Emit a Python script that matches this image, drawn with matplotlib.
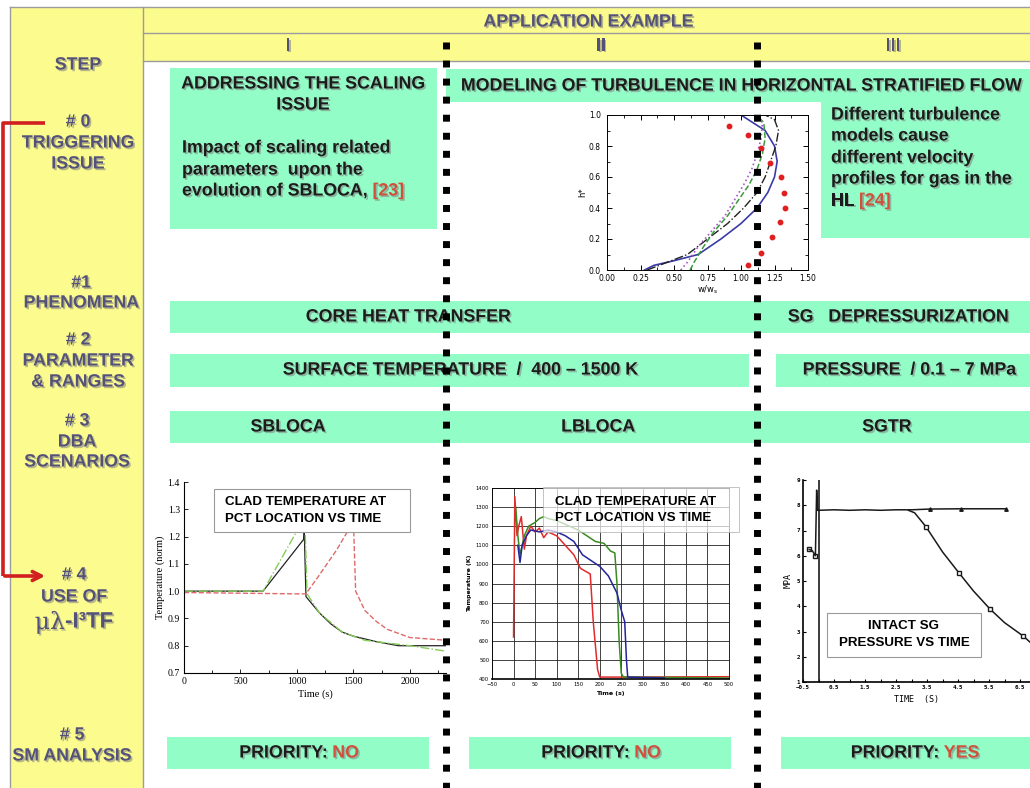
import matplotlib
matplotlib.use("Agg")
import matplotlib.pyplot as plt
import matplotlib.patheffects as pe
from matplotlib.patches import Rectangle
from matplotlib.ticker import MultipleLocator

# ---------------- data ----------------
step_labels = [["STEP"],
               ["# 0", "TRIGGERING", "ISSUE"],
               ["#1", "PHENOMENA"],
               ["# 2", "PARAMETER", "& RANGES"],
               ["# 3", "DBA", "SCENARIOS"],
               ["# 4", "USE OF", ("\u03bc\u03bb", "-I\u00b3TF")],
               ["# 5", "SM ANALYSIS"]]
columns = ["I", "II", "III"]
phenomena = ["CORE HEAT TRANSFER", "SG   DEPRESSURIZATION"]
param_ranges = ["SURFACE TEMPERATURE  /  400 \u2013 1500 K", "PRESSURE  / 0.1 \u2013 7 MPa"]
scenarios = ["SBLOCA", "LBLOCA", "SGTR"]
priority = ["NO", "NO", "YES"]

# turbulence profiles (w/ws, h*)
turb_blue_w = [0.28, 0.35, 0.50, 0.68, 0.85, 1.00, 1.12, 1.20, 1.25, 1.27, 1.25, 1.18, 1.00]
turb_blue_h = [0.00, 0.03, 0.06, 0.10, 0.20, 0.30, 0.40, 0.50, 0.60, 0.70, 0.80, 0.90, 1.00]
turb_black_w = [0.30, 0.45, 0.60, 0.75, 0.90, 1.02, 1.12, 1.18, 1.22, 1.26, 1.28, 1.25, 1.18]
turb_black_h = [0.00, 0.05, 0.10, 0.20, 0.30, 0.40, 0.50, 0.60, 0.70, 0.80, 0.90, 0.97, 1.00]
turb_green_w = [0.62, 0.65, 0.72, 0.80, 0.90, 0.98, 1.06, 1.12, 1.16, 1.18, 1.17, 1.12]
turb_green_h = [0.00, 0.05, 0.15, 0.25, 0.35, 0.45, 0.55, 0.65, 0.75, 0.85, 0.95, 1.00]
turb_purple_w = [0.55, 0.60, 0.68, 0.78, 0.88, 0.95, 1.02, 1.08, 1.12, 1.15, 1.16, 1.12]
turb_purple_h = [0.00, 0.05, 0.15, 0.25, 0.35, 0.45, 0.55, 0.65, 0.75, 0.85, 0.95, 1.00]
turb_exp_w = [1.05, 1.15, 1.23, 1.29, 1.33, 1.32, 1.30, 1.22, 1.15, 1.05, 0.91]
turb_exp_h = [0.03, 0.11, 0.21, 0.31, 0.40, 0.50, 0.60, 0.69, 0.79, 0.87, 0.93]

# SBLOCA normalized clad temperature
sb_black_t = [0, 700, 1060, 1065, 1080, 1100, 1200, 1300, 1400, 1500, 1700, 1900, 2320]
sb_black_T = [1.0, 1.0, 1.19, 1.22, 0.98, 0.97, 0.92, 0.88, 0.85, 0.835, 0.815, 0.80, 0.80]
sb_green_t = [0, 700, 1040, 1070, 1090, 1200, 1400, 1600, 1800, 2000, 2320]
sb_green_T = [1.0, 1.0, 1.25, 1.26, 0.99, 0.92, 0.85, 0.82, 0.81, 0.80, 0.78]
sb_red_t = [0, 1000, 1080, 1200, 1350, 1450, 1500, 1520, 1600, 1700, 1800, 1900, 2000, 2320]
sb_red_T = [0.995, 0.99, 0.99, 1.06, 1.15, 1.22, 1.26, 1.0, 0.93, 0.89, 0.86, 0.845, 0.83, 0.82]

# LBLOCA clad temperature (K)
lb_red_t = [0, 3, 8, 12, 18, 25, 30, 40, 50, 60, 70, 80, 100, 120, 140, 155, 170, 178, 185, 195, 200, 250, 500]
lb_red_T = [620, 1355, 1150, 1200, 1250, 1080, 1150, 1200, 1170, 1190, 1140, 1170, 1150, 1100, 1050, 980,
            960, 950, 700, 450, 410, 410, 412]
lb_green_t = [5, 10, 15, 20, 25, 35, 50, 60, 70, 80, 100, 120, 150, 170, 190, 210, 225, 235, 240, 245, 250,
              255, 500]
lb_green_T = [1300, 1150, 1050, 1100, 1150, 1200, 1220, 1240, 1250, 1240, 1230, 1210, 1180, 1150, 1120, 1110,
              1070, 1060, 900, 600, 430, 410, 405]
lb_blue_t = [10, 15, 20, 30, 40, 60, 80, 100, 120, 140, 160, 180, 200, 220, 240, 250, 258, 262, 265, 350]
lb_blue_T = [1100, 1010, 1100, 1150, 1180, 1170, 1180, 1170, 1150, 1120, 1050, 1020, 990, 940, 850, 760,
             700, 500, 410, 405]

# SGTR intact SG pressure (MPa)
sg_spike_t = [-0.3, -0.2, -0.1, -0.06, -0.03, 0.0]
sg_spike_p = [6.25, 6.2, 6.0, 8.6, 7.8, 7.8]
sg_vert_t = [0.02, 0.02]
sg_vert_p = [1.0, 9.3]
sg_up_t = [0.0, 0.5, 1.0, 1.5, 2.0, 2.5, 3.0, 3.6, 4.6, 6.05]
sg_up_p = [7.8, 7.82, 7.8, 7.82, 7.8, 7.82, 7.82, 7.85, 7.86, 7.86]
sg_low_t = [2.9, 3.1, 3.3, 3.47, 4.0, 4.53, 5.0, 5.53, 6.0, 6.6, 6.82]
sg_low_p = [7.8, 7.7, 7.4, 7.14, 6.15, 5.32, 4.6, 3.89, 3.35, 2.82, 2.58]

# ---------------- figure ----------------
W, H = 1030, 788
YELLOW = '#fbfb8e'
GREEN = '#93fdc7'
PURPLE = '#55527a'
RED = '#d0503c'
DARK = '#1c1c1c'
SANS = 'Liberation Sans'
BIG = 12.8
shadow = [pe.withSimplePatchShadow(offset=(1.2, -1.2), shadow_rgbFace='#808080', alpha=0.55)]

fig = plt.figure(figsize=(W / 100, H / 100), dpi=100)
bg = fig.add_axes([0, 0, 1, 1])
bg.set_xlim(0, W)
bg.set_ylim(H, 0)
bg.axis('off')
top = fig.add_axes([0, 0, 1, 1], zorder=10)
top.set_xlim(0, W)
top.set_ylim(H, 0)
top.axis('off')
top.patch.set_alpha(0)
renderer = fig.canvas.get_renderer()


def rect(l, t, r, b):
    return [l / W, 1 - b / H, (r - l) / W, (b - t) / H]


def box(x0, y0, x1, y1, color=GREEN, ax=bg, **kw):
    ax.add_patch(Rectangle((x0, y0), x1 - x0, y1 - y0, fc=color, ec=kw.pop('ec', 'none'), **kw))


def label(x, y, s, size=BIG, color=DARK, ha='center', ax=bg, fx=True, **kw):
    return ax.text(x, y, s, fontsize=size, color=color, ha=ha, va='center',
                   fontweight=kw.pop('fontweight', 'bold'), family=kw.pop('family', SANS),
                   path_effects=shadow if fx else None, **kw)


def two_tone(x, y, parts, size=BIG, ha='center'):
    objs = []
    for p in parts:
        kw = dict(p[2]) if len(p) > 2 else {}
        sz = kw.pop('fontsize', size)
        objs.append(label(0, y, p[0], sz, p[1], ha='left', **kw))
    widths = [o.get_window_extent(renderer).width for o in objs]
    start = x - sum(widths) / 2 if ha == 'center' else x
    for o, w in zip(objs, widths):
        o.set_x(start)
        start += w


# header / left column
box(10, 7, W, 61, YELLOW)
box(10, 7, 143, H, YELLOW)
gray = dict(color='#9c9c9c', lw=1)
bg.plot([10, W], [7, 7], **gray)
bg.plot([143, W], [33, 33], **gray)
bg.plot([143, W], [61, 61], **gray)
bg.plot([10, 10], [7, H], **gray)
bg.plot([143, 143], [7, H], **gray)

label(588, 22, "APPLICATION EXAMPLE", BIG, PURPLE)
for x, c in zip([288, 601, 893], columns):
    label(x, 46, c, BIG, PURPLE)

step_pos = [(78, [65]), (78, [122, 143, 164]), (81, [283, 303]), (78, [340, 361, 382]),
            (77, [421, 442, 462]), (74, [575, 597, 622]), (72, [735, 756])]
for (x, ys), txt in zip(step_pos, step_labels):
    for y, s in zip(ys, txt):
        if isinstance(s, tuple):
            two_tone(x, y, [(s[0], PURPLE, dict(family='DejaVu Serif', fontweight='normal', fontsize=17)),
                            (s[1], PURPLE, dict(fontsize=16))], 16)
        else:
            label(x, y, s, 12.8, PURPLE)

# red bracket arrow
bg.plot([45, 3, 3], [123, 123, 576], color='#d11f1f', lw=2.6, solid_capstyle='butt')
bg.annotate('', xy=(48, 576), xytext=(2, 576),
            arrowprops=dict(arrowstyle='->', color='#d11f1f', lw=2.6, mutation_scale=16))

# row I triggering issue
box(170, 68, 437, 229)
label(303, 84, "ADDRESSING THE SCALING")
label(303, 105, "ISSUE")
label(182, 148, "Impact of scaling related", ha='left')
label(182, 170, "parameters  upon the", ha='left')
two_tone(182, 191, [("evolution of SBLOCA, ", DARK), ("[23]", RED)], ha='left')

# row II/III
box(446, 69, W, 102)
label(740, 86, "MODELING OF TURBULENCE IN HORIZONTAL STRATIFIED FLOW")
box(821, 102, W, 238)
for y, s in zip([115, 136, 158, 179], ["Different turbulence", "models cause",
                                        "different velocity", "profiles for gas in the"]):
    label(831, y, s, ha='left')
two_tone(831, 201, [("HL ", DARK), ("[24]", RED)], ha='left')

# phenomena / parameter / scenario rows
box(170, 301, W, 333)
label(408, 317, phenomena[0])
label(898, 317, phenomena[1])
box(170, 354, 749, 387)
box(776, 354, W, 387)
label(460, 370, param_ranges[0])
label(909, 370, param_ranges[1])
box(170, 411, W, 443)
for x, s in zip([288, 598, 887], scenarios):
    label(x, 427, s)

# priority row
for (x0, x1), cx, p in zip([(167, 429), (469, 731), (781, W)], [299, 601, 915], priority):
    box(x0, 737, x1, 769)
    two_tone(cx, 753, [("PRIORITY: ", DARK), (p, RED)])

# ---------------- chart: turbulence ----------------
ax1 = fig.add_axes(rect(607, 115, 808, 270))
ax1.plot(turb_blue_w, turb_blue_h, color='#3b3ba6', lw=1.2)
ax1.plot(turb_black_w, turb_black_h, color='#222222', lw=1.0, ls='-.')
ax1.plot(turb_green_w, turb_green_h, color='#3c9a3c', lw=1.1, ls='--')
ax1.plot(turb_purple_w, turb_purple_h, color='#a55ac8', lw=1.2, ls=':')
ax1.plot(turb_exp_w, turb_exp_h, 'o', color='#e02020', ms=3.2)
ax1.set_xlim(0, 1.5)
ax1.set_ylim(0, 1.0)
ax1.xaxis.set_major_locator(MultipleLocator(0.25))
ax1.yaxis.set_major_locator(MultipleLocator(0.2))
ax1.xaxis.set_minor_locator(MultipleLocator(0.125))
ax1.yaxis.set_minor_locator(MultipleLocator(0.1))
ax1.xaxis.set_major_formatter(plt.FuncFormatter(lambda v, p: f"{v:.2f}"))
ax1.yaxis.set_major_formatter(plt.FuncFormatter(lambda v, p: f"{v:.1f}"))
ax1.tick_params(which='both', direction='in', top=True, right=True, labelsize=5.5)
ax1.tick_params(axis='x', pad=3)
ax1.tick_params(axis='y', pad=4.5)
ax1.tick_params(which='major', length=3.5, width=0.7)
ax1.tick_params(which='minor', length=2, width=0.6)
for s in ax1.spines.values():
    s.set_linewidth(0.7)
ax1.set_xlabel(r"w/w$_\mathregular{s}$", fontsize=6, labelpad=0)
ax1.set_ylabel("h*", fontsize=6, labelpad=1)

# ---------------- chart: SBLOCA ----------------
SERIF = 'Liberation Serif'
ax2 = fig.add_axes(rect(184, 482, 446, 673))
ax2.plot(sb_black_t, sb_black_T, color='#222222', lw=0.9)
ax2.plot(sb_green_t, sb_green_T, color='#86cc5a', lw=1.0, ls='-.')
ax2.plot(sb_red_t, sb_red_T, color='#e06a6a', lw=1.0, ls='--')
ax2.set_xlim(0, 2320)
ax2.set_ylim(0.7, 1.4)
ax2.set_xticks([0, 500, 1000, 1500, 2000])
ax2.set_yticks([0.7, 0.8, 0.9, 1.0, 1.1, 1.2, 1.3, 1.4])
ax2.xaxis.set_minor_locator(MultipleLocator(250))
ax2.spines[['top', 'right']].set_visible(False)
ax2.tick_params(which='both', direction='in', labelsize=7, width=0.6, pad=3)
ax2.tick_params(which='major', length=3)
ax2.tick_params(which='minor', length=2)
for t in ax2.get_xticklabels() + ax2.get_yticklabels():
    t.set_family(SERIF)
ax2.set_xlabel("Time (s)", fontsize=7.5, family=SERIF, labelpad=2)
ax2.set_ylabel("Temperature (norm)", fontsize=7.5, family=SERIF, labelpad=2)
box(214, 489, 410, 532, 'white', ax=top, ec='#9a9a9a', lw=0.8)
label(225, 502, "CLAD TEMPERATURE AT", 9.6, 'black', ha='left', ax=top, fx=False)
label(225, 519, "PCT LOCATION VS TIME", 9.6, 'black', ha='left', ax=top, fx=False)

# ---------------- chart: LBLOCA ----------------
ax3 = fig.add_axes(rect(492, 488, 729, 679))
ax3.plot(lb_red_t, lb_red_T, color='#e22a2a', lw=1.1)
ax3.plot(lb_green_t, lb_green_T, color='#3a8a22', lw=1.1)
ax3.plot(lb_blue_t, lb_blue_T, color='#24249a', lw=1.1)
ax3.set_xlim(-50, 500)
ax3.set_ylim(400, 1400)
ax3.set_xticks(range(-50, 501, 50))
ax3.set_yticks(range(400, 1401, 100))
ax3.grid(True, color='#222222', lw=0.6)
ax3.set_axisbelow(True)
ax3.tick_params(length=0, labelsize=3.8, pad=2)
for s in ax3.spines.values():
    s.set_linewidth(0.6)
ax3.spines['bottom'].set_linewidth(1.2)
ax3.set_xlabel("Time (s)", fontsize=4.5, fontweight='bold', labelpad=3)
ax3.set_ylabel("Temperature (K)", fontsize=4.5, fontweight='bold', labelpad=3)
box(543, 487, 739, 532, 'white', ax=top, ec='#aaaaaa', lw=0.7, alpha=0.7)
label(555, 502, "CLAD TEMPERATURE AT", 9.6, 'black', ha='left', ax=top, fx=False)
label(555, 518, "PCT LOCATION VS TIME", 9.6, 'black', ha='left', ax=top, fx=False)

# ---------------- chart: SGTR ----------------
MONO = 'DejaVu Sans Mono'
ax4 = fig.add_axes(rect(803, 480, 1030, 682))
ax4.plot(sg_spike_t, sg_spike_p, color='#1a1a1a', lw=1.1, marker='s', ms=2.5, mfc='none', markevery=[0, 2])
ax4.plot(sg_vert_t, sg_vert_p, color='#1a1a1a', lw=1.2)
ax4.plot(sg_up_t, sg_up_p, color='#1a1a1a', lw=1.1, marker='^', ms=2.5, markevery=[7, 8, 9])
ax4.plot(sg_low_t, sg_low_p, color='#1a1a1a', lw=1.1, marker='s', ms=3, mfc='white', markevery=[3, 5, 7, 9])
ax4.set_xlim(-0.5, 6.82)
ax4.set_ylim(1, 9)
ax4.set_xticks([-0.5, 0.5, 1.5, 2.5, 3.5, 4.5, 5.5, 6.5])
ax4.xaxis.set_minor_locator(MultipleLocator(0.5))
ax4.set_yticks(range(1, 10))
ax4.spines[['top', 'right']].set_visible(False)
for s in ax4.spines.values():
    s.set_linewidth(1.2)
ax4.tick_params(which='both', direction='in', length=2.5, width=0.8, labelsize=4.2, pad=2)
for t in ax4.get_xticklabels() + ax4.get_yticklabels():
    t.set_family(MONO)
    t.set_fontweight('bold')
ax4.set_xlabel("TIME  (S)", fontsize=6, family=MONO, labelpad=4)
ax4.set_ylabel("MPA", fontsize=6, family=MONO, labelpad=3)
box(827, 613, 981, 657, 'white', ax=top, ec='#9a9a9a', lw=0.8)
label(904, 626, "INTACT SG", 9.6, 'black', ax=top, fx=False)
label(904, 643, "PRESSURE VS TIME", 9.6, 'black', ax=top, fx=False)

# dotted column dividers (on top)
for x in [446, 757]:
    top.plot([x, x], [42, H], color='black', lw=5, ls=(0, (1, 1.6)), dash_capstyle='butt')

fig.savefig("out.png", dpi=100)
